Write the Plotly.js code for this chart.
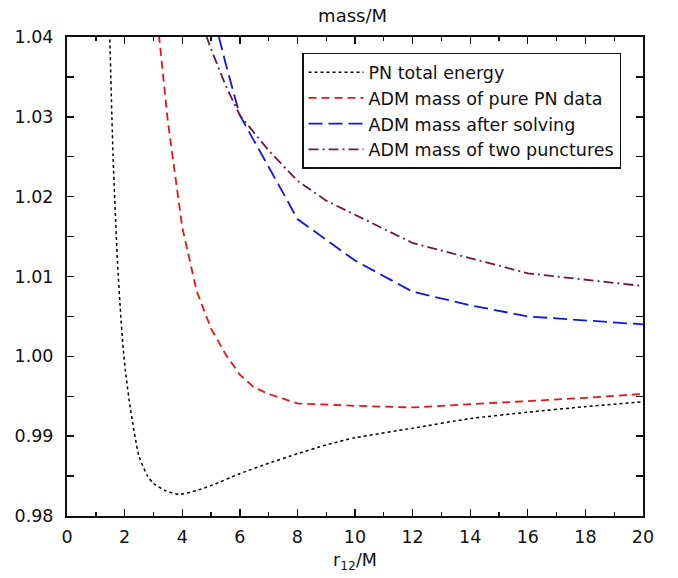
<!DOCTYPE html>
<html>
<head>
<meta charset="utf-8">
<script src="https://cdn.plot.ly/plotly-3.0.1.min.js"></script>
<style>html,body{margin:0;padding:0;background:#fff;}#chart{width:678px;height:578px;}</style>
</head>
<body>
<div id="chart"></div>
<script>
// PN total energy
const pnX = [1.45, 1.6, 1.75, 1.85, 1.95, 2.05, 2.2, 2.5, 2.8, 3.0, 3.4, 3.9, 4.5, 5, 6, 7, 8, 9, 10, 12, 14, 16, 18, 20];
const pnY = [1.045, 1.025, 1.012, 1.006, 1.001, 0.9975, 0.9935, 0.9875, 0.9850, 0.9841, 0.9832, 0.9827, 0.9832, 0.9838, 0.9853, 0.9866, 0.9878, 0.9889, 0.9898, 0.9910, 0.9922, 0.9930, 0.9937, 0.9943];
// ADM mass of pure PN data
const pureX = [3.1, 3.5, 3.8, 4.0, 4.5, 5, 5.5, 6, 6.5, 7, 8, 10, 12, 14, 16, 18, 20];
const pureY = [1.0435, 1.0295, 1.0215, 1.0162, 1.0082, 1.0035, 1.0003, 0.9977, 0.9961, 0.9953, 0.9941, 0.9938, 0.9936, 0.9940, 0.9944, 0.9948, 0.9953];
// ADM mass after solving
const solvX = [5.1, 5.5, 6, 6.5, 7, 7.5, 8, 10, 12, 14, 16, 20];
const solvY = [1.0425, 1.0368, 1.0302, 1.0270, 1.0237, 1.0205, 1.0172, 1.0120, 1.0081, 1.0064, 1.0050, 1.0040];
// ADM mass of two punctures
const puncX = [4.6, 5, 5.5, 6, 7, 8, 9, 10, 12, 16, 20];
const puncY = [1.0425, 1.0385, 1.0340, 1.0302, 1.0258, 1.0220, 1.0195, 1.0177, 1.0142, 1.0104, 1.0088];

const names = ["PN total energy", "ADM mass of pure PN data", "ADM mass after solving", "ADM mass of two punctures"];
const xTickVals = [0, 2, 4, 6, 8, 10, 12, 14, 16, 18, 20];
const xTickText = ["0", "2", "4", "6", "8", "10", "12", "14", "16", "18", "20"];
const yTickVals = [0.98, 0.99, 1.00, 1.01, 1.02, 1.03, 1.04];
const yTickText = ["0.98", "0.99", "1.00", "1.01", "1.02", "1.03", "1.04"];

const traces = [
  {x: pnX, y: pnY, name: names[0], mode: "lines", line: {color: "#000000", width: 1.5, dash: "dot", shape: "spline", smoothing: 0.6}},
  {x: pureX, y: pureY, name: names[1], mode: "lines", line: {color: "#e8141c", width: 1.8, dash: "8px,5px"}},
  {x: solvX, y: solvY, name: names[2], mode: "lines", line: {color: "#1414e6", width: 1.8, dash: "14px,6px"}},
  {x: puncX, y: puncY, name: names[3], mode: "lines", line: {color: "#6a1a48", width: 1.8, dash: "10px,4px,2px,4px"}}
];

const axisCommon = {
  showgrid: false, zeroline: false, showline: true, linecolor: "#111", linewidth: 2,
  mirror: "ticks", ticks: "inside", ticklen: 7, tickwidth: 1.4, tickcolor: "#111"
};

const layout = {
  width: 678, height: 578,
  margin: {l: 67, r: 35, t: 37, b: 62},
  paper_bgcolor: "#fff", plot_bgcolor: "#fff",
  font: {family: "DejaVu Sans, Liberation Sans, sans-serif", size: 17.5, color: "#111"},
  title: {text: "mass/M", x: 0.52, xanchor: "center", y: 0.972, yanchor: "middle", font: {size: 18}},
  showlegend: true,
  legend: {x: 0.408, xanchor: "left", y: 0.967, yanchor: "top", bordercolor: "#111", borderwidth: 1.5,
           bgcolor: "#fff", font: {size: 17.5}, tracegroupgap: 0, itemwidth: 55},
  xaxis: Object.assign({}, axisCommon, {
    range: [0, 20], tickvals: xTickVals, ticktext: xTickText, ticklabelstandoff: 4,
    minor: {dtick: 1, tick0: 0, ticks: "inside", ticklen: 4, tickcolor: "#111", tickwidth: 1.4},
    title: {text: "r<sub>12</sub>/M", standoff: 8, font: {size: 17.5}}
  }),
  yaxis: Object.assign({}, axisCommon, {
    range: [0.98, 1.04], tickvals: yTickVals, ticktext: yTickText, ticklabelstandoff: 8,
    minor: {dtick: 0.005, tick0: 0.98, ticks: "inside", ticklen: 7, tickcolor: "#111", tickwidth: 1.4}
  })
};

Plotly.newPlot("chart", traces, layout, {displayModeBar: false, staticPlot: true});
</script>
</body>
</html>
